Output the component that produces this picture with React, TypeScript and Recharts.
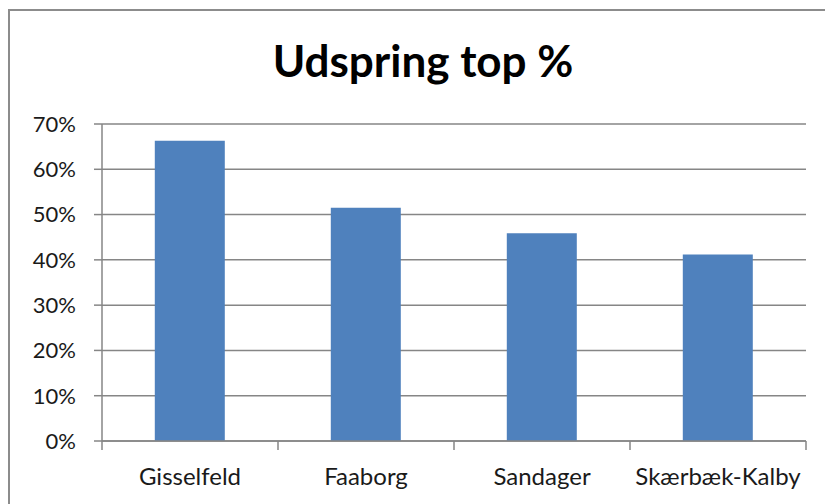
import { Bar, BarChart, CartesianGrid, XAxis, YAxis } from "recharts";

const categories = ["Gisselfeld", "Faaborg", "Sandager", "Skærbæk-Kalby"];
const topShare = [0.663, 0.515, 0.459, 0.412];
const yTicks = [0, 0.1, 0.2, 0.3, 0.4, 0.5, 0.6, 0.7];

const BAR_BLUE = "#4F81BD";
const AXIS_GREY = "#868686";
const FONT = "Lato, 'Open Sans', sans-serif";

const data = categories.map((name, i) => ({ name, value: topShare[i] }));

const yTickStyle = { fill: "#1a1a1a", fontSize: 22, fontFamily: FONT };

function pct(v: number) {
  return `${Math.round(v * 100)}%`;
}

// Excel-style category tick: label centred, tick marks on the band edges
function CategoryTick(props: any) {
  const { x, y, payload, index } = props;
  const half = payload?.offset ?? 0;
  const axisY = y - 27;
  const isLast = index === categories.length - 1;
  return (
    <g>
      <line
        x1={x - half}
        x2={x - half}
        y1={axisY}
        y2={axisY + 9}
        stroke={AXIS_GREY}
        strokeWidth={1.5}
      />
      {isLast && (
        <line
          x1={x + half}
          x2={x + half}
          y1={axisY}
          y2={axisY + 9}
          stroke={AXIS_GREY}
          strokeWidth={1.5}
        />
      )}
      <text
        x={x}
        y={y}
        dy="0.71em"
        textAnchor="middle"
        fill="#1a1a1a"
        fontSize={24}
        fontFamily={FONT}
      >
        {payload.value}
      </text>
    </g>
  );
}

export default function App() {
  return (
    <div
      style={{
        position: "absolute",
        left: 0,
        top: 0,
        width: 825,
        height: 504,
        background: "#fff",
        overflow: "hidden",
      }}
    >
      {/* outer chart frame */}
      <div
        style={{
          position: "absolute",
          left: 8,
          top: 9,
          width: 840,
          height: 520,
          border: `2px solid #8c8c8c`,
          boxSizing: "border-box",
        }}
      />
      <div
        style={{
          position: "absolute",
          left: 223,
          top: 34,
          width: 400,
          textAlign: "center",
          fontFamily: FONT,
          fontWeight: 700,
          fontSize: 44,
          color: "#000",
          lineHeight: "53px",
          whiteSpace: "nowrap",
        }}
      >
        Udspring top %
      </div>
      <div style={{ position: "absolute", left: 0, top: 0 }}>
        <BarChart
          width={825}
          height={504}
          data={data}
          margin={{ top: 124, right: 19, left: 0, bottom: 13 }}
          barCategoryGap="30%"
        >
          <CartesianGrid
            vertical={false}
            stroke={AXIS_GREY}
            strokeWidth={1.5}
          />
          <XAxis
            dataKey="name"
            tickLine={false}
            tickSize={0}
            tickMargin={27}
            height={50}
            tick={<CategoryTick />}
            interval={0}
            stroke={AXIS_GREY}
            strokeWidth={1.5}
          />
          <YAxis
            domain={[0, 0.7]}
            ticks={yTicks}
            tickFormatter={pct}
            width={102}
            tickSize={8}
            tickMargin={18}
            tick={yTickStyle}
            stroke={AXIS_GREY}
            strokeWidth={1.5}
          />
          <Bar dataKey="value" fill={BAR_BLUE} isAnimationActive={false} />
        </BarChart>
      </div>
    </div>
  );
}
